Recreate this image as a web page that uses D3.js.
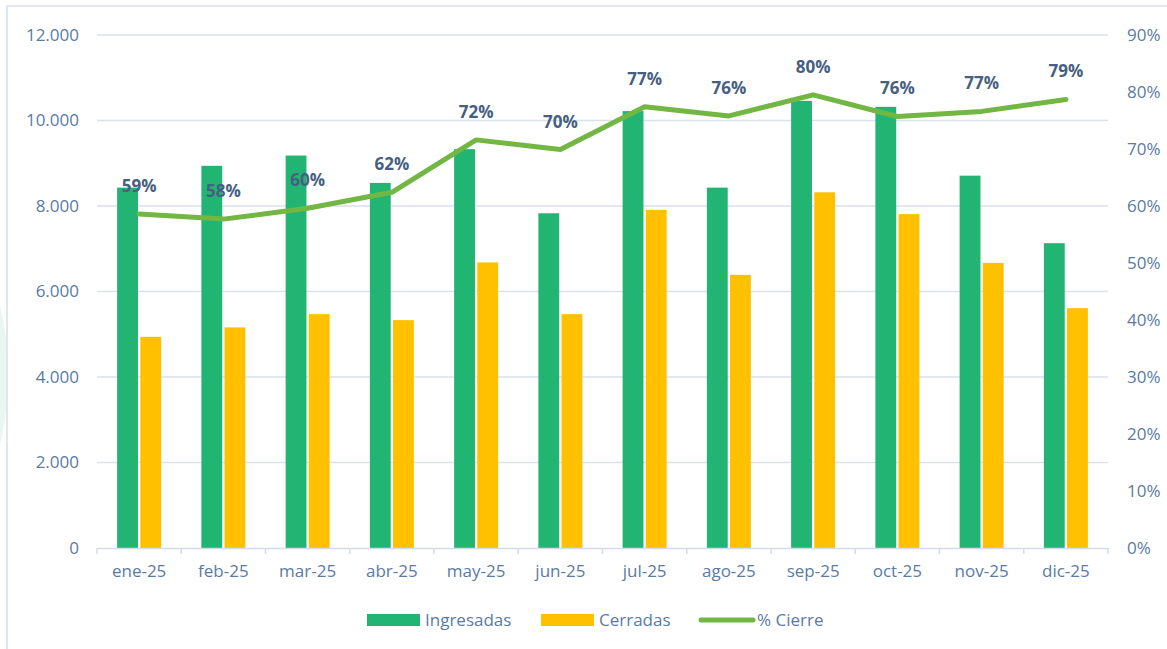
<!DOCTYPE html>
<html>
<head>
<meta charset="utf-8">
<script src="https://cdn.jsdelivr.net/npm/d3@7"></script>
<style>
  body { margin: 0; background: #fff; }
  svg { display: block; font-family: "Open Sans", sans-serif; }
</style>
</head>
<body>
<div id="chart"></div>
<script>
const months = ["ene-25", "feb-25", "mar-25", "abr-25", "may-25", "jun-25",
                "jul-25", "ago-25", "sep-25", "oct-25", "nov-25", "dic-25"];
const ingresadas = [8430, 8940, 9180, 8540, 9330, 7830, 10220, 8430, 10460, 10320, 8710, 7130];
const cerradas   = [4940, 5160, 5470, 5330, 6680, 5470, 7910, 6390, 8320, 7810, 6670, 5610];
const cierre     = [0.586, 0.577, 0.596, 0.624, 0.716, 0.699, 0.774, 0.758, 0.795, 0.757, 0.766, 0.787];
const leftTicks  = [0, 2000, 4000, 6000, 8000, 10000, 12000];
const rightTicks = [0, 0.1, 0.2, 0.3, 0.4, 0.5, 0.6, 0.7, 0.8, 0.9];
const series = ["Ingresadas", "Cerradas"];
const colors = {Ingresadas: "#22b473", Cerradas: "#ffc000", line: "#72b743"};

let width = 1167, height = 649;
let margin = {top: 35, right: 59, bottom: 101, left: 97};

const svg = d3.select("#chart")
  .append("svg")
    .attr("width", width)
    .attr("height", height);

// faint background shape at the left edge and chart frame
svg.append("ellipse")
    .attr("cx", -40).attr("cy", 375)
    .attr("rx", 48).attr("ry", 125)
    .attr("fill", "#e9f7f2");
svg.append("rect")
    .attr("x", 7).attr("y", 6)
    .attr("width", width + 10).attr("height", height + 10)
    .attr("fill", "#fff")
    .attr("stroke", "#d6e0ec")
    .attr("stroke-width", 1.5);

const loc = d3.formatLocale({decimal: ",", thousands: ".", grouping: [3], currency: ["", ""]});
const fmtNum = loc.format(",.0f");
const fmtPct = d3.format(".0%");

let x = d3.scaleBand()
  .domain(months)
  .range([margin.left, width - margin.right]);

let x1 = d3.scaleBand()
  .domain(series)
  .range([0, 44])
  .paddingInner(0.1);

let y = d3.scaleLinear()
  .domain([0, 12000])
  .range([height - margin.bottom, margin.top]);

let y2 = d3.scaleLinear()
  .domain([0, 0.9])
  .range([height - margin.bottom, margin.top]);

// gridlines
svg.append("g")
  .selectAll("line")
  .data(leftTicks.slice(1))
  .enter()
  .append("line")
    .attr("x1", margin.left)
    .attr("x2", width - margin.right)
    .attr("y1", d => y(d))
    .attr("y2", d => y(d))
    .attr("stroke", "#d9e1ec")
    .attr("stroke-width", 1.5);

// left axis
svg.append("g")
  .attr("transform", "translate(" + margin.left + ",0)")
  .call(d3.axisLeft(y).tickValues(leftTicks).tickFormat(fmtNum).tickSize(0).tickPadding(18))
  .call(g => g.select(".domain").remove())
  .selectAll("text")
    .attr("font-size", 17)
    .attr("font-family", "Open Sans")
    .attr("fill", "#5a7ba3");

// right axis
svg.append("g")
  .attr("transform", "translate(" + (width - margin.right) + ",0)")
  .call(d3.axisRight(y2).tickValues(rightTicks).tickFormat(fmtPct).tickSize(0).tickPadding(19))
  .call(g => g.select(".domain").remove())
  .selectAll("text")
    .attr("font-size", 17)
    .attr("font-family", "Open Sans")
    .attr("fill", "#5a7ba3");

// bars
let groups = svg.append("g")
  .selectAll("g")
  .data(months)
  .enter()
  .append("g")
    .attr("transform", d => "translate(" + (x(d) + (x.bandwidth() - 44) / 2) + ",0)");

groups.selectAll("rect")
  .data((d, i) => [
    {key: "Ingresadas", v: ingresadas[i]},
    {key: "Cerradas", v: cerradas[i]}
  ])
  .enter()
  .append("rect")
    .attr("x", d => x1(d.key))
    .attr("y", d => y(d.v))
    .attr("width", x1.bandwidth())
    .attr("height", d => y(0) - y(d.v))
    .attr("fill", d => colors[d.key]);

// x axis
let xAxis = svg.append("g")
  .attr("transform", "translate(0," + y(0) + ")")
  .call(d3.axisBottom(x).tickSize(0).tickPadding(17))
  .call(g => g.select(".domain").attr("stroke", "#d3dce8").attr("stroke-width", 1.5));
xAxis.selectAll("text")
    .attr("font-size", 17)
    .attr("font-family", "Open Sans")
    .attr("fill", "#5a7ba3");
xAxis.selectAll(".sep")
  .data(months.concat(["end"]))
  .enter()
  .append("line")
    .attr("class", "sep")
    .attr("x1", (d, i) => i < months.length ? x(d) : x.range()[1])
    .attr("x2", (d, i) => i < months.length ? x(d) : x.range()[1])
    .attr("y1", 0)
    .attr("y2", 6)
    .attr("stroke", "#d3dce8")
    .attr("stroke-width", 1.5);

// % Cierre line
let line = d3.line()
  .x((d, i) => x(months[i]) + x.bandwidth() / 2)
  .y(d => y2(d));

svg.append("path")
  .datum(cierre)
  .attr("d", line)
  .attr("fill", "none")
  .attr("stroke", colors.line)
  .attr("stroke-width", 5)
  .attr("stroke-linejoin", "round")
  .attr("stroke-linecap", "round");

svg.selectAll("text.lbl")
  .data(cierre)
  .enter()
  .append("text")
    .attr("class", "lbl")
    .attr("x", (d, i) => x(months[i]) + x.bandwidth() / 2)
    .attr("y", d => y2(d) - 28)
    .attr("dy", "0.35em")
    .attr("text-anchor", "middle")
    .attr("font-size", 17)
    .attr("font-weight", "bold")
    .attr("fill", "#465f82")
    .text(d => fmtPct(d));

// legend
let legend = svg.append("g").attr("transform", "translate(0,620)");
let items = [
  {name: "Ingresadas", x: 367, type: "rect", color: colors.Ingresadas},
  {name: "Cerradas", x: 541, type: "rect", color: colors.Cerradas},
  {name: "% Cierre", x: 699, type: "line", color: colors.line}
];
items.forEach(function (it) {
  if (it.type === "rect") {
    legend.append("rect")
      .attr("x", it.x).attr("y", -6)
      .attr("width", 53).attr("height", 12)
      .attr("fill", it.color);
  } else {
    legend.append("line")
      .attr("x1", it.x + 2).attr("x2", it.x + 54)
      .attr("y1", 0).attr("y2", 0)
      .attr("stroke", it.color)
      .attr("stroke-width", 5)
      .attr("stroke-linecap", "round");
  }
  legend.append("text")
    .attr("x", it.x + 58)
    .attr("y", 0)
    .attr("dy", "0.35em")
    .attr("font-size", 17)
    .attr("fill", "#5a7ba3")
    .text(it.name);
});
</script>
</body>
</html>
